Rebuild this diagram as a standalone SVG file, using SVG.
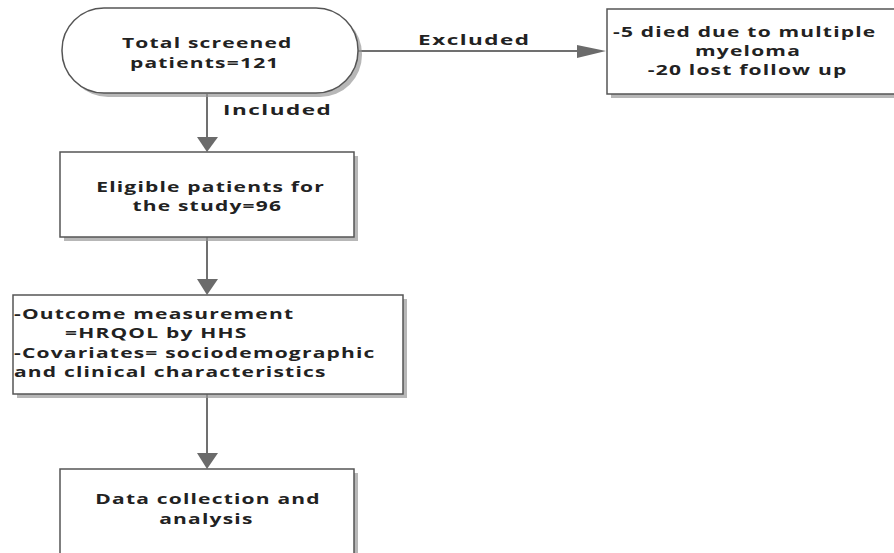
<svg xmlns="http://www.w3.org/2000/svg" width="894" height="553" viewBox="0 0 894 553">
<style>
.box{fill:#fff;stroke:#555;stroke-width:1.5}
.sh{fill:#999;opacity:0.7}
.t{font-family:"Open Sans","Noto Sans","DejaVu Sans",sans-serif;font-weight:bold;font-size:14px;fill:#222;letter-spacing:0.8px}
.lb{font-size:15px;letter-spacing:1px}
.m{text-anchor:middle}
.c{stroke:#707070;stroke-width:2;fill:none}
.ah{fill:#6b6b6b}
</style>
<rect width="894" height="553" fill="#fff"/>
<g id="connectors">
<line class="c" x1="207" y1="94" x2="207" y2="140"/>
<path class="ah" d="M197,137 L218,137 L207,152 z"/>
<line class="c" x1="207" y1="237" x2="207" y2="281"/>
<path class="ah" d="M197,279 L218,279 L207,295 z"/>
<line class="c" x1="207" y1="394" x2="207" y2="455"/>
<path class="ah" d="M197,453 L218,453 L207,469 z"/>
<line class="c" x1="358" y1="51" x2="580" y2="51"/>
<path class="ah" d="M577,45 L577,58 L606,51 z"/>
<g transform="scale(1.5 1)">
<text class="t lb" x="148.7" y="115">Included</text>
<text class="t lb" x="278.7" y="45">Excluded</text>
</g>
</g>
<g id="n1">
<rect class="sh" x="66" y="12" width="296" height="85" rx="42"/>
<rect class="box" x="62" y="8" width="296" height="85" rx="42"/>
<g transform="scale(1.5 1)">
<text class="t m" x="138.2" y="48">Total screened</text>
<text class="t m" x="136.5" y="68">patients=121</text>
</g>
</g>
<g id="n2">
<rect class="sh" x="611" y="13" width="290" height="85"/>
<rect class="box" x="607" y="9" width="292" height="85"/>
<g transform="scale(1.5 1)">
<text class="t" x="408.7" y="37">-5 died due to multiple</text>
<text class="t m" x="498.7" y="56">myeloma</text>
<text class="t m" x="498.4" y="75">-20 lost follow up</text>
</g>
</g>
<g id="n3">
<rect class="sh" x="64" y="156" width="294" height="85"/>
<rect class="box" x="60" y="152" width="294" height="85"/>
<g transform="scale(1.5 1)">
<text class="t m" x="140.4" y="192">Eligible patients for</text>
<text class="t m" x="138.2" y="211">the study=96</text>
</g>
</g>
<g id="n4">
<rect class="sh" x="17" y="299" width="390" height="99"/>
<rect class="box" x="13" y="295" width="390" height="99"/>
<g transform="scale(1.5 1)">
<text class="t" x="9.3" y="319">-Outcome measurement</text>
<text class="t" x="43.3" y="338">=HRQOL by HHS</text>
<text class="t" x="9.3" y="358">-Covariates= sociodemographic</text>
<text class="t" x="9.3" y="377">and clinical characteristics</text>
</g>
</g>
<g id="n5">
<rect class="sh" x="64" y="473" width="294" height="90"/>
<rect class="box" x="60" y="469" width="294" height="90"/>
<g transform="scale(1.5 1)">
<text class="t m" x="138.7" y="504">Data collection and</text>
<text class="t m" x="137.6" y="524">analysis</text>
</g>
</g>
</svg>
